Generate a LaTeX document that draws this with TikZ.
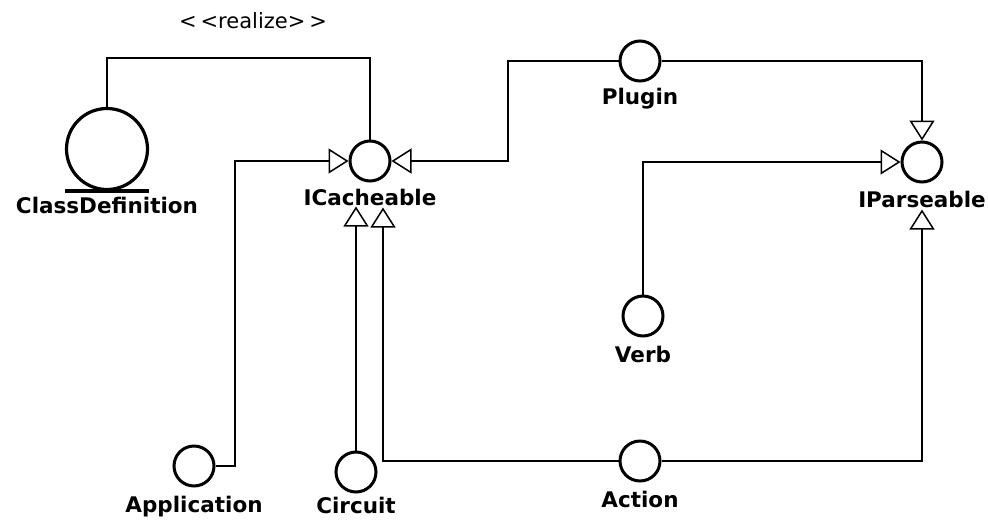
\documentclass[tikz,border=0pt]{standalone}
\usepackage{fontspec}
\setmainfont{DejaVu Sans}
\usetikzlibrary{arrows.meta,positioning}
\begin{document}
\begin{tikzpicture}[x=1pt,y=-1pt,
  iface/.style={circle,draw,line width=3pt,minimum size=40pt,inner sep=0pt},
  lbl/.style={inner sep=1pt,font=\fontsize{21.5}{21.5}\selectfont\bfseries},
  real/.style={line width=1.5pt,-{Triangle[open,length=20pt,width=25pt]}},
  plain/.style={line width=1.5pt}]
\useasboundingbox (0,0) rectangle (988,520);
% interfaces
\node[iface,minimum size=81pt,line width=3.2pt] (cdef) at (107,149) {};
\node[iface] (icache) at (370,161) {};
\node[iface] (plug) at (640,61) {};
\node[iface] (iparse) at (922,162) {};
\node[iface] (verb) at (643,316) {};
\node[iface] (app) at (194,466) {};
\node[iface] (circ) at (356,472) {};
\node[iface] (act) at (640,461) {};
\draw[line width=3.5pt] (cdef.west |- cdef.south) -- (cdef.east |- cdef.south);
% nombres
\node[lbl,below=5pt of cdef] (cdefL) {ClassDefinition};
\node[lbl,below=5pt of icache] (icacheL) {ICacheable};
\node[lbl,below=4pt of plug] (plugL) {Plugin};
\node[lbl,below=6pt of iparse] (iparseL) {IParseable};
\node[lbl,below=7pt of verb] (verbL) {Verb};
\node[lbl,below=7pt of app] (appL) {Application};
\node[lbl,below=2pt of circ] (circL) {Circuit};
\node[lbl,below=7pt of act] (actL) {Action};
% esquinas
\coordinate (rtop) at (0,58);
\coordinate (appx) at (235,0);
\coordinate (plugx) at (508,0);
% realize
\draw[plain] (cdef.north) |- (rtop -| icache.north) -- (icache.north);
\node[font=\fontsize{21}{21}\selectfont] (realL) at (253,21) {<\hspace{4pt}<realize>\hspace{4pt}>};
% realizaciones
\draw[real] (app.east) -| (appx |- icache.west) -- (icache.west);
\draw[real] (plug.west) -| (plugx |- icache.east) -- (icache.east);
\draw[real] (circ.north) -- (circ.north |- icacheL.south);
\draw[real] (act.west) -| ([xshift=13pt,yshift=-1pt]icacheL.south);
\draw[real] (act.east) -| ([yshift=-1pt]iparseL.south);
\draw[real] (verb.north) |- (iparse.west);
\draw[real] (plug.east) -| (iparse.north);
\end{tikzpicture}
\end{document}
